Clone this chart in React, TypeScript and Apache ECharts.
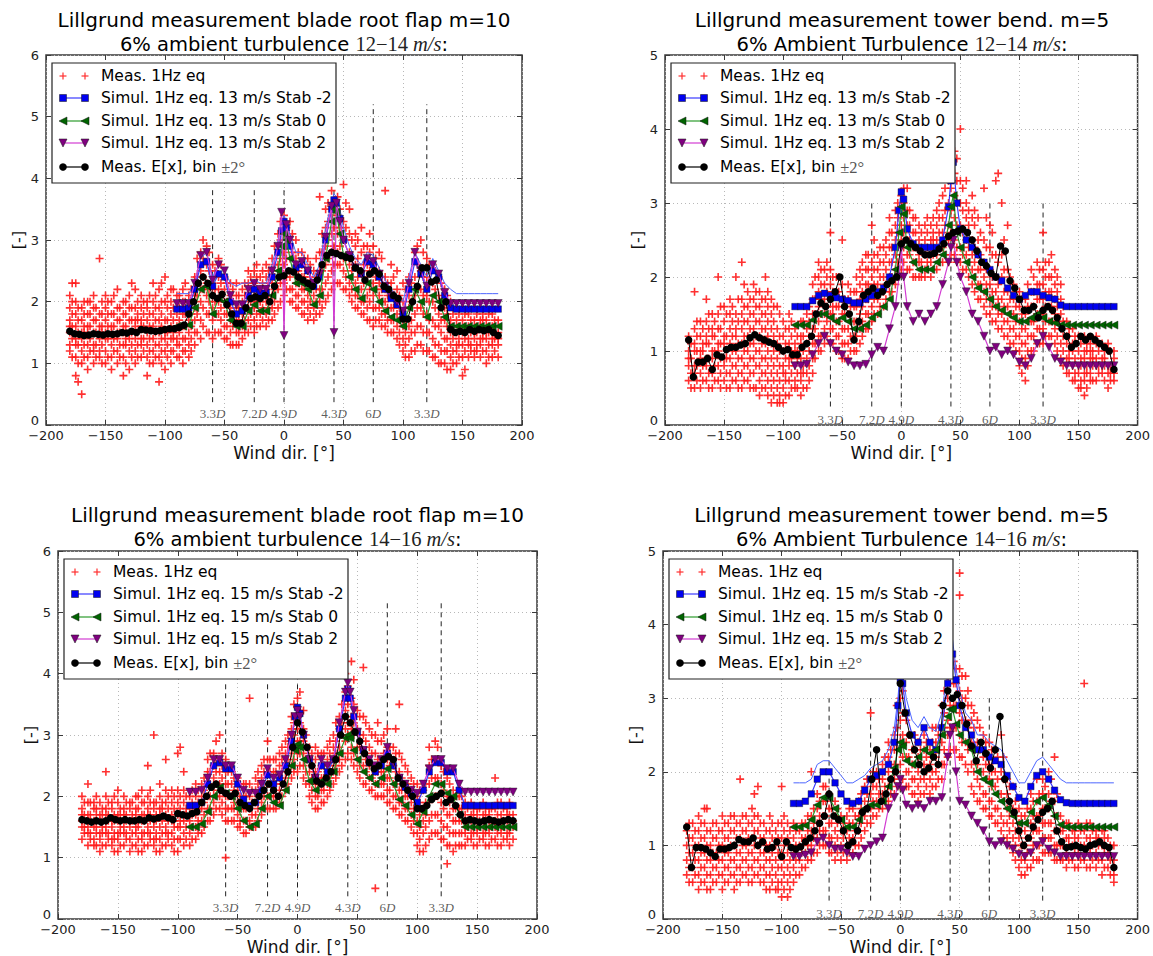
import React, { useEffect, useRef } from "react";
import * as echarts from "echarts";

// ---------------- data ----------------
const binX = [
  -180, -176, -172, -168, -164, -160, -156, -152, -148, -144,
  -140, -136, -132, -128, -124, -120, -116, -112, -108, -104,
  -100, -96, -92, -88, -84, -80, -76, -72, -68, -64,
  -60, -56, -52, -48, -44, -40, -36, -32, -28, -24,
  -20, -16, -12, -8, -4, 0, 4, 8, 12, 16,
  20, 24, 28, 32, 36, 40, 44, 48, 52, 56,
  60, 64, 68, 72, 76, 80, 84, 88, 92, 96,
  100, 104, 108, 112, 116, 120, 124, 128, 132, 136,
  140, 144, 148, 152, 156, 160, 164, 168, 172, 176,
  180,
];
const simX = [
  -90, -85, -80, -75, -70, -65, -60, -55, -50, -45, -40, -35, -30, -25, -20, -15, -10, -5,
  -2, 0, 2,
  5, 10, 15, 20, 25, 30, 35, 40,
  42, 44, 47,
  50, 55, 60, 65, 70, 75, 80, 85, 90, 95, 100, 105, 110, 115, 120, 125, 130, 135, 140,
  145, 150, 155, 160, 165, 170, 175, 180,
];
const dashX = [-60, -25, 0, 42, 75, 120];
const dashNum = ["3.3", "7.2", "4.9", "4.3", "6", "3.3"];
const dashTopBlade = [3.84, 3.84, 3.84, 3.84, 5.2, 5.2];
const dashTopTower = [3.0, 3.0, 3.0, 3.0, 3.0, 3.0];

// Mean E[x] (black)
const blackTL = [
  1.52, 1.48, 1.47, 1.45, 1.46, 1.48, 1.47, 1.46, 1.48, 1.47,
  1.48, 1.5, 1.49, 1.52, 1.5, 1.55, 1.54, 1.53, 1.52, 1.53,
  1.55, 1.56, 1.56, 1.58, 1.62, 1.8, 2.0, 2.3, 2.4, 2.3,
  2.1, 2.05, 2.12, 1.95, 1.8, 1.65, 1.65, 1.9, 2.05, 2.08,
  2.05, 2.1, 2.0, 2.25, 2.4, 2.42, 2.5, 2.48, 2.4, 2.35,
  2.3, 2.25, 2.35, 2.6, 2.75, 2.8, 2.78, 2.75, 2.72, 2.7,
  2.55, 2.5, 2.35, 2.45, 2.5, 2.45, 2.25, 2.2, 2.1, 2.05,
  1.72, 1.72, 2.0, 2.25, 2.55, 2.55, 2.32, 2.35, 1.9, 2.0,
  1.55, 1.5, 1.52, 1.5, 1.55, 1.52, 1.55, 1.53, 1.55, 1.5,
  1.45,
];
const blackTR = [
  1.15, 0.65, 0.85, 0.85, 0.9, 0.75, 0.95, 0.92, 1.02, 1.05,
  1.05, 1.08, 1.1, 1.18, 1.22, 1.18, 1.15, 1.12, 1.1, 1.05,
  1.0, 1.02, 0.95, 0.95, 1.05, 1.1, 1.2, 1.5, 1.65, 1.6,
  1.7, 1.8, 2.0, 1.6, 1.5, 1.15, 1.4, 1.75, 1.8, 1.85,
  1.75, 1.8, 1.9, 1.95, 2.0, 2.45, 2.5, 2.45, 2.4, 2.35,
  2.3, 2.3, 2.32, 2.38, 2.45, 2.55, 2.6, 2.62, 2.65, 2.6,
  2.5, 2.35, 2.2, 2.15, 2.05, 2.0, 2.42, 2.35, 1.95, 1.85,
  1.7, 1.55, 1.55, 1.6, 1.45, 1.55, 1.6, 1.55, 1.45, 1.3,
  1.2, 1.05, 1.1, 1.2, 1.15, 1.2, 1.15, 1.1, 1.05, 1.0,
  0.75,
];
const blackBL = [
  1.62, 1.6, 1.58, 1.6, 1.58, 1.6, 1.65, 1.62, 1.6, 1.62,
  1.6, 1.6, 1.62, 1.6, 1.65, 1.63, 1.65, 1.68, 1.65, 1.62,
  1.72, 1.7, 1.68, 1.72, 1.75, 1.9, 2.0, 2.15, 2.2, 2.1,
  2.05, 2.0, 2.05, 1.9, 1.85, 1.8, 1.9, 2.0, 2.1, 2.2,
  2.1, 2.0, 2.2, 2.4, 2.8, 3.2, 3.05, 2.8, 2.5, 2.25,
  2.2, 2.3, 2.4, 2.6, 3.0, 3.3, 3.2, 3.05, 2.9, 2.7,
  2.55, 2.45, 2.5, 2.6, 2.65, 2.6, 2.3, 2.2, 2.1, 2.0,
  1.8, 1.8, 1.85, 1.95, 2.0, 2.05, 1.9, 1.95, 1.85, 1.7,
  1.6, 1.62, 1.6, 1.58, 1.6, 1.62, 1.6, 1.58, 1.6, 1.62,
  1.6,
];
const blackBR = [
  1.25, 0.7, 0.97, 0.97, 0.95, 0.9, 0.85, 0.95, 0.95, 0.97,
  1.0, 1.08, 1.05, 1.05, 1.1, 1.0, 1.05, 0.95, 0.97, 1.05,
  0.85, 1.05, 0.97, 0.95, 0.98, 1.05, 1.1, 1.2, 1.3, 1.4,
  1.7, 1.4, 1.35, 1.2, 1.0, 1.05, 1.2, 1.45, 1.5, 1.9,
  2.3, 1.6, 1.7, 1.9, 2.0, 3.2, 2.8, 2.5, 2.3, 2.1,
  2.0, 2.05, 2.2, 2.1, 2.9, 3.1, 3.0, 3.05, 2.9, 2.65,
  2.35, 2.15, 2.4, 2.25, 2.05, 2.3, 2.75, 1.9, 1.6, 1.45,
  1.2, 1.0, 1.1, 1.25, 1.35, 1.45, 1.5, 1.6, 1.2, 1.05,
  0.97, 0.98, 1.0, 0.97, 0.95, 1.0, 1.02, 1.05, 1.0, 0.97,
  0.7,
];

// Simulations (on simX)
const blueTL = [
  1.88, 1.88, 1.9, 2.2, 2.6, 2.65, 2.25, 2.45, 2.4, 2.0, 1.8, 1.85, 2.1, 2.2, 2.15, 2.15, 2.4, 2.8,
  3.15, 3.3, 3.2,
  2.9, 2.55, 2.6, 2.5, 2.25, 2.4, 3.0, 3.5,
  3.65, 3.6, 3.35,
  3.0, 2.75, 2.55, 2.45, 2.65, 2.6, 2.4, 2.2, 2.05, 1.95, 1.8, 2.2, 2.65, 2.45, 2.2, 2.5, 2.4, 2.1, 1.9,
  1.88, 1.88, 1.88, 1.88, 1.88, 1.88, 1.88, 1.88,
];
const greenTL = [
  1.6, 1.6, 1.62, 1.9, 2.2, 2.25, 1.8, 2.05, 2.0, 1.7, 1.6, 1.6, 1.85, 1.95, 1.85, 1.85, 2.1, 2.5,
  2.9, 3.1, 3.0,
  2.7, 2.3, 2.3, 2.2, 1.95, 2.1, 2.7, 3.3,
  3.5, 3.45, 3.1,
  2.75, 2.4, 2.2, 2.05, 2.3, 2.2, 2.0, 1.85, 1.75, 1.7, 1.6, 1.9, 2.2, 2.0, 1.75, 2.1, 2.0, 1.75, 1.6,
  1.6, 1.6, 1.6, 1.6, 1.6, 1.6, 1.6, 1.6,
];
const purpleTL = [
  1.97, 1.97, 1.97, 2.3, 2.75, 2.8, 2.35, 2.6, 2.5, 2.1, 1.95, 1.95, 2.2, 2.3, 2.2, 2.2, 2.5, 2.9,
  3.45, 1.45, 3.25,
  3.0, 2.6, 2.65, 2.5, 2.3, 2.45, 3.05, 3.55,
  1.5, 3.6, 3.3,
  3.0, 2.75, 2.55, 2.45, 2.7, 2.65, 2.45, 2.25, 2.1, 2.0, 1.85, 2.3, 2.8, 2.5, 2.25, 2.6, 2.45, 2.15, 1.97,
  1.97, 1.97, 1.97, 1.97, 1.97, 1.97, 1.97, 1.97,
];
const thinTL = [
  2.13, 2.13, 2.13, 2.3, 2.7, 2.8, 2.4, 2.6, 2.5, 2.3, 2.25, 2.3, 2.3, 2.35, 2.3, 2.3, 2.6, 3.0,
  3.3, 3.4, 3.3,
  3.1, 2.8, 2.8, 2.6, 2.4, 2.6, 3.2, 3.6,
  3.75, 3.7, 3.5,
  3.2, 2.9, 2.7, 2.6, 2.8, 2.75, 2.55, 2.35, 2.2, 2.1, 2.0, 2.4, 2.8, 2.6, 2.4, 2.7, 2.5, 2.3, 2.2,
  2.13, 2.13, 2.13, 2.13, 2.13, 2.13, 2.13, 2.13,
];
const blueTR = [
  1.6, 1.6, 1.6, 1.68, 1.75, 1.78, 1.75, 1.72, 1.7, 1.68, 1.65, 1.65, 1.7, 1.75, 1.8, 1.85, 2.0, 2.4,
  2.9, 3.15, 3.05,
  2.65, 2.45, 2.4, 2.4, 2.4, 2.4, 2.5, 2.95,
  3.3, 3.55, 3.0,
  2.65, 2.5, 2.4, 2.3, 2.2, 2.1, 2.0, 1.95, 1.85, 1.75, 1.7, 1.75, 1.8, 1.8, 1.75, 1.72, 1.7, 1.62, 1.6,
  1.6, 1.6, 1.6, 1.6, 1.6, 1.6, 1.6, 1.6,
];
const greenTR = [
  1.35, 1.35, 1.35, 1.42, 1.5, 1.5, 1.45, 1.4, 1.45, 1.4, 1.3, 1.3, 1.35, 1.45, 1.5, 1.6, 1.7, 2.1,
  2.6, 2.95, 2.85,
  2.4, 2.2, 2.1, 2.1, 2.1, 2.2, 2.3, 2.7,
  2.95, 3.1, 2.6,
  2.4, 2.2, 2.0, 1.85, 1.8, 1.7, 1.6, 1.55, 1.5, 1.45, 1.4, 1.4, 1.45, 1.5, 1.45, 1.4, 1.38, 1.35, 1.35,
  1.35, 1.35, 1.35, 1.35, 1.35, 1.35, 1.35, 1.35,
];
const purpleTR = [
  0.8, 0.8, 0.82, 0.95, 1.1, 1.2, 1.1, 1.0, 0.95, 0.85, 0.8, 0.8, 0.82, 0.95, 1.05, 1.0, 1.3, 1.6,
  2.0, 2.4, 2.0,
  1.6, 1.4, 1.5, 1.4, 1.5, 1.6, 1.9, 2.2,
  2.4, 2.5, 2.2,
  2.0, 1.8, 1.5, 1.4, 1.2, 1.0, 1.05, 0.95, 1.0, 0.95, 0.85, 0.8, 0.9, 1.1, 1.2, 1.05, 0.9, 0.85, 0.8,
  0.8, 0.8, 0.8, 0.8, 0.8, 0.8, 0.8, 0.8,
];
const blueBL = [
  1.85, 1.85, 1.9, 2.2, 2.5, 2.55, 2.45, 2.45, 2.2, 1.95, 1.85, 1.9, 2.1, 2.35, 2.2, 2.3, 2.5, 2.9,
  3.3, 3.45, 3.35,
  3.0, 2.6, 2.3, 2.5, 2.4, 2.6, 3.1, 3.6,
  3.75, 3.6, 3.3,
  3.05, 2.75, 2.55, 2.4, 2.5, 2.7, 2.5, 2.3, 2.15, 2.05, 1.9, 2.1, 2.4, 2.55, 2.55, 2.4, 2.4, 2.1, 1.85,
  1.85, 1.85, 1.85, 1.85, 1.85, 1.85, 1.85, 1.85,
];
const greenBL = [
  1.5, 1.5, 1.55, 1.75, 2.0, 2.15, 2.05, 2.0, 1.8, 1.6, 1.5, 1.55, 1.8, 2.0, 1.9, 1.85, 2.1, 2.5,
  2.75, 2.85, 2.8,
  2.6, 2.25, 2.1, 2.25, 2.2, 2.4, 2.7, 2.95,
  3.0, 2.95, 2.75,
  2.6, 2.4, 2.3, 2.2, 2.3, 2.45, 2.2, 1.95, 1.85, 1.7, 1.55, 1.75, 2.0, 2.2, 2.2, 2.05, 2.0, 1.7, 1.5,
  1.5, 1.5, 1.5, 1.5, 1.5, 1.5, 1.5, 1.5,
];
const purpleBL = [
  2.07, 2.07, 2.1, 2.3, 2.6, 2.6, 2.5, 2.5, 2.3, 2.1, 2.05, 2.05, 2.2, 2.45, 2.3, 2.35, 2.6, 3.0,
  3.3, 3.4, 3.3,
  3.0, 2.6, 2.3, 2.6, 2.5, 2.6, 3.2, 3.7,
  3.85, 3.7, 3.4,
  3.05, 2.75, 2.6, 2.5, 2.6, 2.8, 2.55, 2.3, 2.2, 2.1, 2.05, 2.2, 2.45, 2.6, 2.6, 2.45, 2.45, 2.2, 2.07,
  2.07, 2.07, 2.07, 2.07, 2.07, 2.07, 2.07, 2.07,
];
const blueBR = [
  1.57, 1.57, 1.6, 1.7, 1.9, 2.0, 2.0, 1.85, 1.7, 1.6, 1.57, 1.6, 1.75, 1.9, 1.95, 2.0, 2.1, 2.4,
  2.9, 3.25, 3.2,
  2.8, 2.5, 2.4, 2.6, 2.4, 2.3, 2.6, 3.2,
  3.45, 3.6, 3.25,
  2.9, 2.6, 2.5, 2.3, 2.3, 2.2, 2.15, 2.1, 1.95, 1.8, 1.65, 1.6, 1.8, 1.95, 2.0, 1.9, 1.75, 1.62, 1.58,
  1.57, 1.57, 1.57, 1.57, 1.57, 1.57, 1.57, 1.57,
];
const greenBR = [
  1.25, 1.25, 1.27, 1.35, 1.55, 1.65, 1.65, 1.5, 1.35, 1.25, 1.25, 1.35, 1.5, 1.55, 1.55, 1.6, 1.8, 2.05,
  2.3, 2.4, 2.35,
  2.15, 2.1, 2.2, 2.3, 2.25, 2.3, 2.5, 2.75,
  2.85, 2.85, 2.65,
  2.5, 2.4, 2.3, 2.0, 1.9, 1.85, 1.7, 1.6, 1.5, 1.4, 1.3, 1.3, 1.45, 1.6, 1.65, 1.55, 1.4, 1.28, 1.25,
  1.25, 1.25, 1.25, 1.25, 1.25, 1.25, 1.25, 1.25,
];
const purpleBR = [
  0.85, 0.85, 0.87, 0.9, 1.05, 1.1, 1.0, 0.95, 0.95, 0.9, 0.85, 0.85, 0.95, 1.0, 1.05, 1.1, 1.5, 1.65,
  1.8, 1.9, 1.75,
  1.55, 1.5, 1.55, 1.5, 1.6, 1.6, 1.65, 2.2,
  2.5, 2.6, 2.0,
  1.6, 1.55, 1.4, 1.3, 1.2, 1.05, 1.0, 1.05, 1.0, 0.95, 0.88, 0.85, 0.9, 1.0, 1.05, 0.95, 0.9, 0.85, 0.85,
  0.85, 0.85, 0.85, 0.85, 0.85, 0.85, 0.85, 0.85,
];
const thinBR = [
  1.85, 1.85, 1.85, 1.9, 2.1, 2.15, 2.15, 2.05, 1.95, 1.85, 1.85, 1.9, 1.95, 2.05, 2.1, 2.15, 2.3, 2.6,
  3.0, 3.4, 3.35,
  3.0, 2.7, 2.6, 2.75, 2.6, 2.55, 2.8, 3.4,
  3.65, 3.8, 3.4,
  3.1, 2.8, 2.7, 2.5, 2.5, 2.4, 2.35, 2.3, 2.15, 2.0, 1.85, 1.85, 2.0, 2.15, 2.2, 2.1, 2.0, 1.9, 1.85,
  1.85, 1.85, 1.85, 1.85, 1.85, 1.85, 1.85, 1.85,
];

// Measured 1 Hz equivalent loads (red): each row = [wind dir, y values...]
const redTL = [
  [-180, 1.2, 1.3, 1.5, 1.6, 1.7, 1.9, 2.1], [-175, 0.8, 1.1, 1.3, 1.4, 1.6, 1.8, 2.0, 2.3],
  [-170, 0.5, 1.0, 1.2, 1.4, 1.5, 1.7, 1.9], [-165, 0.9, 1.1, 1.3, 1.5, 1.6, 1.8, 2.0],
  [-160, 1.0, 1.2, 1.3, 1.5, 1.7, 1.9, 2.1], [-155, 1.1, 1.2, 1.4, 1.5, 1.6, 1.8, 2.7],
  [-150, 1.0, 1.2, 1.4, 1.5, 1.7, 1.9, 2.1], [-145, 0.9, 1.1, 1.3, 1.5, 1.6, 1.8, 2.0],
  [-140, 1.0, 1.2, 1.4, 1.5, 1.7, 1.9, 2.2], [-135, 0.8, 1.1, 1.3, 1.5, 1.6, 1.8, 2.0],
  [-130, 0.9, 1.2, 1.4, 1.5, 1.7, 1.9, 2.1], [-125, 1.0, 1.2, 1.4, 1.6, 1.7, 1.9, 2.2],
  [-120, 1.1, 1.3, 1.4, 1.6, 1.7, 1.9, 2.1], [-115, 0.8, 1.1, 1.3, 1.5, 1.7, 1.9, 2.0],
  [-110, 1.0, 1.2, 1.4, 1.6, 1.8, 2.0, 2.3], [-105, 0.7, 1.1, 1.3, 1.5, 1.7, 1.9, 2.2],
  [-100, 0.9, 1.2, 1.4, 1.5, 1.7, 2.0, 2.4], [-95, 1.0, 1.2, 1.4, 1.6, 1.8, 2.0, 2.2],
  [-90, 1.1, 1.3, 1.4, 1.6, 1.8, 1.9, 2.1], [-85, 1.0, 1.2, 1.4, 1.6, 1.8, 2.0, 2.2],
  [-80, 1.1, 1.3, 1.5, 1.7, 1.9, 2.1], [-75, 1.3, 1.5, 1.7, 1.9, 2.1, 2.4],
  [-70, 1.4, 1.7, 2.0, 2.2, 2.5, 2.8], [-65, 1.5, 1.8, 2.1, 2.3, 2.6, 2.9],
  [-60, 1.4, 1.7, 1.9, 2.1, 2.3, 2.6], [-55, 1.5, 1.8, 2.0, 2.2, 2.4, 2.7],
  [-50, 1.4, 1.6, 1.8, 2.0, 2.2, 2.4], [-45, 1.3, 1.5, 1.7, 1.9, 2.1, 2.3],
  [-40, 1.3, 1.5, 1.7, 1.9, 2.1, 2.3], [-35, 1.4, 1.6, 1.8, 2.0, 2.2],
  [-30, 1.5, 1.7, 1.9, 2.1, 2.3, 2.5], [-25, 1.5, 1.7, 1.9, 2.1, 2.3, 2.5],
  [-20, 1.6, 1.8, 2.0, 2.2, 2.4], [-15, 1.6, 1.8, 2.0, 2.2, 2.4, 2.6],
  [-10, 1.7, 1.9, 2.1, 2.3, 2.5, 2.7], [-5, 1.9, 2.2, 2.4, 2.6, 2.8, 3.1],
  [0, 2.1, 2.3, 2.6, 2.8, 3.1, 3.4], [5, 2.0, 2.2, 2.4, 2.7, 3.0, 3.3],
  [10, 1.9, 2.1, 2.3, 2.5, 2.7, 3.0], [15, 1.8, 2.0, 2.2, 2.4, 2.6, 2.8],
  [20, 1.7, 1.9, 2.1, 2.3, 2.5, 2.7], [25, 1.7, 1.9, 2.1, 2.3, 2.5],
  [30, 1.8, 2.0, 2.2, 2.5, 2.8, 3.7], [35, 2.0, 2.3, 2.6, 2.9, 3.2, 3.5],
  [40, 2.2, 2.5, 2.8, 3.1, 3.4, 3.8], [45, 2.3, 2.6, 2.8, 3.1, 3.4, 3.7],
  [50, 2.2, 2.5, 2.7, 3.0, 3.3, 3.9], [55, 2.1, 2.3, 2.6, 2.8, 3.1, 3.5],
  [60, 1.9, 2.1, 2.3, 2.6, 2.9, 3.1], [65, 1.8, 2.0, 2.2, 2.5, 2.8, 3.2],
  [70, 1.7, 1.9, 2.1, 2.4, 2.6, 2.9], [75, 1.6, 1.9, 2.1, 2.3, 2.6, 2.9],
  [80, 1.7, 1.9, 2.1, 2.3, 2.5, 2.8], [85, 1.6, 1.8, 2.0, 2.2, 2.4, 3.8],
  [90, 1.5, 1.7, 1.9, 2.1, 2.3, 2.6], [95, 1.4, 1.6, 1.8, 2.0, 2.2, 2.5],
  [100, 1.2, 1.4, 1.6, 1.8, 2.0, 2.3], [105, 1.1, 1.4, 1.6, 1.9, 2.1, 2.4],
  [110, 1.2, 1.5, 1.8, 2.1, 2.4, 2.8], [115, 1.3, 1.6, 1.9, 2.2, 2.5, 3.0],
  [120, 1.2, 1.5, 1.8, 2.1, 2.4, 2.7], [125, 1.1, 1.4, 1.7, 2.0, 2.3, 2.6],
  [130, 1.0, 1.3, 1.6, 1.8, 2.1, 2.4], [135, 1.0, 1.2, 1.4, 1.7, 1.9, 2.2],
  [140, 0.9, 1.1, 1.3, 1.5, 1.7, 2.0], [145, 1.0, 1.2, 1.3, 1.5, 1.7, 1.9],
  [150, 0.8, 1.1, 1.3, 1.5, 1.7, 1.9], [155, 1.1, 1.3, 1.4, 1.6, 1.8],
  [160, 1.1, 1.2, 1.4, 1.5, 1.7, 1.9], [165, 1.1, 1.3, 1.4, 1.6, 1.7, 1.9],
  [170, 1.0, 1.2, 1.4, 1.5, 1.7, 1.9], [175, 1.1, 1.3, 1.4, 1.6, 1.8],
  [180, 1.1, 1.3, 1.4, 1.5, 1.7],
  [-178, 1.1, 1.4, 1.6, 1.8, 2.0, 2.3], [-173, 0.7, 1.0, 1.3, 1.5, 1.7, 1.9],
  [-168, 1.1, 1.3, 1.5, 1.6, 1.8, 2.0], [-163, 1.2, 1.4, 1.6, 1.8, 2.0],
  [-158, 1.1, 1.3, 1.5, 1.7, 1.9], [-153, 1.0, 1.3, 1.5, 1.6, 1.8, 2.0],
  [-148, 1.1, 1.4, 1.6, 1.8, 2.0], [-143, 1.2, 1.4, 1.6, 1.8, 2.1],
  [-138, 1.1, 1.3, 1.5, 1.7, 1.9], [-133, 1.0, 1.3, 1.4, 1.6, 1.8, 2.0],
  [-128, 1.1, 1.3, 1.5, 1.7, 1.9, 2.3], [-123, 1.1, 1.3, 1.5, 1.7, 1.8, 2.0],
  [-118, 1.2, 1.4, 1.6, 1.8, 2.0], [-113, 1.0, 1.2, 1.4, 1.6, 1.8, 2.1],
  [-108, 1.1, 1.3, 1.5, 1.7, 1.9, 2.1], [-103, 1.0, 1.2, 1.4, 1.6, 1.8, 2.0, 2.3],
  [-98, 1.1, 1.3, 1.5, 1.7, 1.9, 2.1], [-93, 1.2, 1.4, 1.5, 1.7, 1.9, 2.2],
  [-88, 1.1, 1.3, 1.5, 1.7, 1.9, 2.1], [-83, 1.2, 1.4, 1.6, 1.8, 2.0, 2.3],
  [-78, 1.2, 1.4, 1.6, 1.8, 2.0, 2.2], [-73, 1.5, 1.8, 2.1, 2.4, 2.7],
  [-68, 1.6, 1.9, 2.2, 2.4, 2.7, 3.0], [-63, 1.5, 1.8, 2.0, 2.2, 2.5, 2.8],
  [-58, 1.5, 1.8, 2.0, 2.2, 2.5], [-53, 1.5, 1.7, 1.9, 2.1, 2.3, 2.6],
  [-48, 1.4, 1.6, 1.8, 2.0, 2.3], [-43, 1.3, 1.6, 1.8, 2.0, 2.2],
  [-38, 1.3, 1.5, 1.7, 1.9, 2.1], [-33, 1.5, 1.7, 1.9, 2.1, 2.3],
  [-28, 1.6, 1.8, 2.0, 2.2, 2.4], [-23, 1.6, 1.8, 2.0, 2.2, 2.4, 2.6],
  [-18, 1.7, 1.9, 2.1, 2.3, 2.5], [-13, 1.7, 1.9, 2.1, 2.3, 2.5],
  [-8, 1.8, 2.0, 2.2, 2.4, 2.6, 2.9], [-3, 2.0, 2.3, 2.5, 2.7, 3.0, 3.3],
  [2, 2.2, 2.4, 2.7, 2.9, 3.2], [7, 2.0, 2.2, 2.5, 2.8, 3.1],
  [12, 1.9, 2.1, 2.3, 2.5, 2.8], [17, 1.8, 2.0, 2.2, 2.4, 2.7],
  [22, 1.8, 2.0, 2.2, 2.4, 2.6], [27, 1.8, 2.0, 2.2, 2.4, 2.7],
  [32, 1.9, 2.2, 2.5, 2.8, 3.1], [37, 2.1, 2.4, 2.7, 3.0, 3.3, 3.6],
  [42, 2.3, 2.6, 2.9, 3.2, 3.5], [47, 2.3, 2.6, 2.9, 3.2, 3.5],
  [52, 2.2, 2.4, 2.7, 3.0, 3.2, 3.6], [57, 2.0, 2.2, 2.5, 2.7, 3.0],
  [62, 1.9, 2.1, 2.4, 2.7, 3.0], [67, 1.8, 2.0, 2.3, 2.6, 2.9],
  [72, 1.7, 2.0, 2.2, 2.5, 2.8, 3.1], [77, 1.7, 1.9, 2.2, 2.4, 2.7],
  [82, 1.6, 1.8, 2.0, 2.2, 2.4, 2.7], [87, 1.5, 1.7, 1.9, 2.1, 2.3],
  [92, 1.5, 1.7, 1.9, 2.1, 2.4], [97, 1.3, 1.5, 1.7, 1.9, 2.1],
  [102, 1.1, 1.3, 1.5, 1.7, 1.9, 2.2], [107, 1.2, 1.5, 1.7, 2.0, 2.3],
  [112, 1.3, 1.6, 1.9, 2.2, 2.6, 2.9], [117, 1.2, 1.5, 1.8, 2.1, 2.4, 2.8],
  [122, 1.2, 1.5, 1.7, 2.0, 2.3, 2.6], [127, 1.1, 1.3, 1.6, 1.9, 2.2],
  [132, 1.0, 1.2, 1.5, 1.7, 2.0, 2.3], [137, 0.9, 1.2, 1.4, 1.6, 1.8, 2.1],
  [142, 1.0, 1.2, 1.4, 1.6, 1.8], [147, 1.1, 1.3, 1.4, 1.6, 1.8],
  [152, 0.9, 1.2, 1.4, 1.6, 1.8], [157, 1.2, 1.3, 1.5, 1.7],
  [162, 1.2, 1.3, 1.5, 1.6, 1.8], [167, 1.2, 1.4, 1.5, 1.7, 1.8],
  [172, 1.1, 1.3, 1.5, 1.6, 1.8], [177, 1.2, 1.4, 1.5, 1.7],
];
const redTR = [
  [-180, 0.6, 0.8, 0.9, 1.0, 1.2], [-175, 0.5, 0.7, 0.8, 1.0, 1.1, 1.3, 1.8],
  [-170, 0.5, 0.7, 0.9, 1.0, 1.2, 1.4], [-165, 0.6, 0.8, 0.9, 1.1, 1.2, 1.4, 1.7],
  [-160, 0.5, 0.7, 0.9, 1.0, 1.2, 1.3, 1.5], [-155, 0.6, 0.8, 1.0, 1.1, 1.3, 1.5, 2.0],
  [-150, 0.6, 0.8, 0.9, 1.1, 1.2, 1.4, 1.6], [-145, 0.5, 0.7, 0.9, 1.1, 1.3, 1.5, 1.7],
  [-140, 0.6, 0.8, 1.0, 1.2, 1.3, 1.5, 2.0], [-135, 0.5, 0.7, 0.9, 1.1, 1.3, 1.5, 1.7, 2.2],
  [-130, 0.6, 0.8, 1.0, 1.2, 1.4, 1.6, 1.8], [-125, 0.5, 0.7, 0.9, 1.1, 1.3, 1.5, 1.7, 1.9],
  [-120, 0.4, 0.6, 0.8, 1.0, 1.2, 1.4, 1.6, 1.8], [-115, 0.5, 0.7, 0.9, 1.1, 1.3, 1.5, 1.7, 2.0],
  [-110, 0.3, 0.5, 0.7, 0.9, 1.1, 1.3, 1.5, 1.7], [-105, 0.3, 0.5, 0.7, 0.9, 1.1, 1.3, 1.6],
  [-100, 0.3, 0.5, 0.7, 0.8, 1.0, 1.2, 1.4], [-95, 0.4, 0.6, 0.8, 0.9, 1.1, 1.3, 1.5],
  [-90, 0.5, 0.6, 0.8, 1.0, 1.1, 1.3], [-85, 0.4, 0.6, 0.7, 0.9, 1.1, 1.2, 1.4],
  [-80, 0.5, 0.7, 0.9, 1.1, 1.3, 1.5], [-75, 0.7, 0.9, 1.1, 1.3, 1.5, 1.7, 1.9],
  [-70, 1.0, 1.2, 1.4, 1.6, 1.8, 2.0, 2.2], [-65, 1.1, 1.3, 1.5, 1.7, 1.9, 2.1],
  [-60, 1.1, 1.3, 1.5, 1.7, 1.9, 2.1, 2.6], [-55, 1.0, 1.2, 1.4, 1.6, 1.8, 2.0],
  [-50, 0.9, 1.1, 1.3, 1.5, 1.7, 1.9, 2.5], [-45, 0.9, 1.1, 1.3, 1.5, 1.7, 1.9],
  [-40, 1.0, 1.2, 1.4, 1.6, 1.8], [-35, 1.1, 1.3, 1.5, 1.7, 1.9, 2.1],
  [-30, 1.3, 1.5, 1.7, 1.9, 2.1, 2.3], [-25, 1.4, 1.6, 1.8, 2.0, 2.2, 2.7],
  [-20, 1.5, 1.7, 1.9, 2.1, 2.3], [-15, 1.6, 1.8, 2.0, 2.2, 2.4],
  [-10, 1.8, 2.0, 2.2, 2.4, 2.6, 2.8], [-5, 1.9, 2.1, 2.3, 2.5, 2.7, 2.9],
  [0, 2.1, 2.3, 2.5, 2.7, 2.9, 3.1], [5, 2.1, 2.3, 2.5, 2.7, 2.9, 3.2],
  [10, 2.0, 2.2, 2.4, 2.6, 2.8], [15, 2.0, 2.2, 2.3, 2.5, 2.7],
  [20, 2.0, 2.1, 2.3, 2.5, 2.7], [25, 2.0, 2.2, 2.4, 2.5, 2.7],
  [30, 2.1, 2.3, 2.5, 2.7, 2.9], [35, 2.2, 2.4, 2.6, 2.8, 3.1],
  [40, 2.2, 2.5, 2.7, 3.0, 3.3, 3.6], [45, 2.3, 2.5, 2.8, 3.1, 3.4, 3.7],
  [50, 2.2, 2.4, 2.7, 3.0, 3.3, 4.0], [55, 2.1, 2.3, 2.5, 2.8, 3.0, 3.3],
  [60, 1.9, 2.1, 2.3, 2.5, 2.8, 3.1], [65, 1.7, 1.9, 2.1, 2.3, 2.5, 2.8],
  [70, 1.6, 1.8, 2.0, 2.2, 2.5, 3.2], [75, 1.5, 1.7, 1.9, 2.1, 2.4, 2.7],
  [80, 1.4, 1.6, 1.8, 2.0, 2.3, 3.3], [85, 1.3, 1.5, 1.7, 2.0, 2.3, 3.0],
  [90, 1.2, 1.4, 1.6, 1.8, 2.1, 2.7], [95, 1.1, 1.3, 1.5, 1.7, 1.9],
  [100, 0.8, 1.0, 1.2, 1.4, 1.6, 1.8], [105, 0.6, 0.9, 1.1, 1.3, 1.5, 1.7],
  [110, 1.0, 1.2, 1.4, 1.6, 1.8, 2.1], [115, 1.1, 1.3, 1.5, 1.7, 1.9, 2.2],
  [120, 1.1, 1.3, 1.5, 1.7, 1.9, 2.1, 2.6], [125, 1.2, 1.4, 1.6, 1.8, 2.0, 2.2],
  [130, 1.1, 1.3, 1.5, 1.7, 1.9, 2.1], [135, 0.9, 1.1, 1.3, 1.5, 1.7, 1.9],
  [140, 0.7, 0.9, 1.1, 1.2, 1.4], [145, 0.6, 0.8, 1.0, 1.1, 1.3],
  [150, 0.5, 0.7, 0.8, 1.0, 1.2], [155, 0.4, 0.6, 0.7, 0.9, 1.0, 1.2],
  [160, 0.6, 0.7, 0.9, 1.0, 1.1], [165, 0.6, 0.8, 0.9, 1.1, 1.2],
  [170, 0.7, 0.8, 0.9, 1.1], [175, 0.5, 0.7, 0.8, 1.0, 1.1],
  [180, 0.6, 0.7, 0.9, 1.0],
  [-178, 0.5, 0.7, 0.9, 1.1], [-173, 0.6, 0.8, 1.0, 1.2, 1.4],
  [-168, 0.6, 0.8, 1.0, 1.1, 1.3], [-163, 0.5, 0.7, 0.9, 1.1, 1.3, 1.5],
  [-158, 0.6, 0.8, 1.0, 1.2, 1.4], [-153, 0.5, 0.7, 0.9, 1.1, 1.3, 1.6],
  [-148, 0.5, 0.7, 0.9, 1.0, 1.2, 1.5], [-143, 0.6, 0.8, 1.0, 1.2, 1.4, 1.6],
  [-138, 0.5, 0.7, 0.9, 1.1, 1.4, 1.7], [-133, 0.6, 0.8, 1.0, 1.2, 1.4, 1.6, 1.9],
  [-128, 0.5, 0.7, 0.9, 1.1, 1.3, 1.5, 1.7], [-123, 0.5, 0.8, 1.0, 1.2, 1.4, 1.6, 1.8],
  [-118, 0.5, 0.7, 0.9, 1.1, 1.3, 1.5, 1.7], [-113, 0.4, 0.6, 0.8, 1.0, 1.2, 1.4, 1.6, 1.8],
  [-108, 0.4, 0.6, 0.8, 1.0, 1.2, 1.4, 1.6], [-103, 0.3, 0.4, 0.6, 0.8, 1.0, 1.2, 1.5],
  [-98, 0.4, 0.6, 0.7, 0.9, 1.1, 1.3], [-93, 0.5, 0.7, 0.9, 1.0, 1.2, 1.4],
  [-88, 0.5, 0.7, 0.9, 1.0, 1.2], [-83, 0.5, 0.7, 0.8, 1.0, 1.2, 1.4],
  [-78, 0.6, 0.8, 1.0, 1.2, 1.4, 1.6], [-73, 0.9, 1.1, 1.3, 1.5, 1.7, 2.0],
  [-68, 1.0, 1.2, 1.5, 1.7, 1.9, 2.1], [-63, 1.2, 1.4, 1.6, 1.8, 2.0, 2.2],
  [-58, 1.1, 1.3, 1.5, 1.6, 1.8, 2.0], [-53, 1.0, 1.2, 1.4, 1.6, 1.8, 2.0],
  [-48, 0.9, 1.1, 1.3, 1.5, 1.7], [-43, 1.0, 1.2, 1.4, 1.6, 1.8],
  [-38, 1.0, 1.2, 1.4, 1.6, 1.8, 2.0], [-33, 1.2, 1.4, 1.6, 1.8, 2.0, 2.2],
  [-28, 1.3, 1.5, 1.7, 1.9, 2.1, 2.3], [-23, 1.5, 1.7, 1.9, 2.1, 2.3, 2.5],
  [-18, 1.6, 1.8, 2.0, 2.2, 2.4], [-13, 1.7, 1.9, 2.1, 2.3, 2.5],
  [-8, 1.8, 2.0, 2.2, 2.4, 2.6], [-3, 2.0, 2.2, 2.4, 2.6, 2.8, 3.0],
  [2, 2.2, 2.4, 2.6, 2.8, 3.0, 3.2], [7, 2.1, 2.3, 2.5, 2.7, 2.9],
  [12, 2.0, 2.2, 2.4, 2.6, 2.8], [17, 2.0, 2.2, 2.4, 2.6],
  [22, 2.1, 2.2, 2.4, 2.6, 2.8], [27, 2.1, 2.3, 2.5, 2.6, 2.8],
  [32, 2.2, 2.4, 2.6, 2.8, 3.0], [37, 2.3, 2.5, 2.7, 2.9, 3.2],
  [42, 2.3, 2.6, 2.9, 3.2, 3.5], [47, 2.2, 2.4, 2.7, 3.0, 3.3, 3.6],
  [52, 2.1, 2.3, 2.6, 2.9, 3.2], [57, 2.0, 2.2, 2.4, 2.7, 2.9],
  [62, 1.8, 2.0, 2.2, 2.4, 2.7, 2.9], [67, 1.7, 1.9, 2.1, 2.3, 2.6],
  [72, 1.5, 1.7, 1.9, 2.1, 2.4, 2.8], [77, 1.4, 1.6, 1.8, 2.0, 2.3, 2.6],
  [82, 1.3, 1.5, 1.7, 1.9, 2.2, 3.4], [87, 1.2, 1.4, 1.6, 1.8, 2.1, 2.5],
  [92, 1.1, 1.3, 1.5, 1.7, 2.0], [97, 1.0, 1.2, 1.4, 1.6, 1.8],
  [102, 0.7, 0.9, 1.1, 1.3, 1.5, 1.7], [107, 0.8, 1.0, 1.2, 1.4, 1.6, 1.9],
  [112, 1.0, 1.2, 1.4, 1.6, 1.8, 2.0], [117, 1.1, 1.3, 1.5, 1.7, 1.9, 2.1],
  [122, 1.2, 1.4, 1.6, 1.8, 2.0, 2.2], [127, 1.2, 1.4, 1.6, 1.8, 2.0, 2.3],
  [132, 1.0, 1.2, 1.4, 1.6, 1.8, 2.0], [137, 0.8, 1.0, 1.2, 1.4, 1.6],
  [142, 0.7, 0.9, 1.0, 1.2, 1.3], [147, 0.6, 0.7, 0.9, 1.1, 1.2],
  [152, 0.5, 0.6, 0.8, 0.9, 1.1], [157, 0.5, 0.7, 0.8, 1.0, 1.1],
  [162, 0.6, 0.8, 0.9, 1.0], [167, 0.7, 0.8, 1.0, 1.1],
  [172, 0.6, 0.8, 0.9, 1.0], [177, 0.6, 0.7, 0.8, 1.0],
];
const redBL = [
  [-180, 1.3, 1.5, 1.6, 1.7, 1.8, 2.0], [-175, 1.2, 1.4, 1.5, 1.6, 1.7, 1.9, 2.2],
  [-170, 1.2, 1.3, 1.5, 1.6, 1.8, 1.9], [-165, 1.1, 1.3, 1.4, 1.6, 1.7, 1.9],
  [-160, 1.2, 1.4, 1.5, 1.7, 1.8, 2.0, 2.4], [-155, 1.2, 1.3, 1.5, 1.6, 1.8, 1.9],
  [-150, 1.1, 1.3, 1.4, 1.6, 1.7, 1.9, 2.1], [-145, 1.2, 1.4, 1.5, 1.7, 1.8, 2.0],
  [-140, 1.1, 1.3, 1.5, 1.6, 1.8, 1.9], [-135, 1.2, 1.4, 1.5, 1.7, 1.8, 2.0],
  [-130, 1.1, 1.3, 1.4, 1.6, 1.7, 1.9, 2.1], [-125, 1.2, 1.4, 1.5, 1.7, 1.8, 2.0, 2.5],
  [-120, 1.2, 1.3, 1.5, 1.6, 1.8, 1.9, 3.0], [-115, 1.1, 1.3, 1.5, 1.7, 1.8, 2.0, 2.2],
  [-110, 1.2, 1.4, 1.5, 1.7, 1.9, 2.1, 2.6], [-105, 1.2, 1.4, 1.6, 1.7, 1.9, 2.1],
  [-100, 1.1, 1.3, 1.5, 1.7, 1.9, 2.1, 2.7], [-95, 1.2, 1.4, 1.6, 1.7, 1.9, 2.1, 2.4],
  [-90, 1.2, 1.4, 1.6, 1.8, 2.0], [-85, 1.3, 1.5, 1.7, 1.8, 2.0, 2.2],
  [-80, 1.4, 1.6, 1.8, 2.0, 2.2], [-75, 1.6, 1.8, 2.0, 2.2, 2.4, 2.6],
  [-70, 1.7, 1.9, 2.1, 2.3, 2.5, 2.7], [-65, 1.8, 2.0, 2.2, 2.4, 2.6, 3.0],
  [-60, 1.0, 1.6, 1.8, 2.0, 2.2, 2.4, 2.6], [-55, 1.6, 1.8, 2.0, 2.2, 2.4],
  [-50, 1.5, 1.7, 1.9, 2.1, 2.3], [-45, 1.4, 1.6, 1.8, 2.0, 2.2],
  [-40, 1.5, 1.6, 1.8, 2.0, 2.2, 3.6], [-35, 1.5, 1.7, 1.9, 2.1, 2.3],
  [-30, 1.7, 1.9, 2.1, 2.3, 2.5], [-25, 1.8, 2.0, 2.2, 2.4, 2.6, 2.9],
  [-20, 1.8, 2.0, 2.2, 2.4, 2.6], [-15, 1.9, 2.1, 2.3, 2.5, 2.7],
  [-10, 2.1, 2.3, 2.5, 2.7, 2.9], [-5, 2.3, 2.5, 2.7, 2.9, 3.1, 3.3],
  [0, 2.4, 2.7, 2.9, 3.1, 3.3, 3.6], [5, 2.3, 2.5, 2.7, 2.9, 3.1, 3.4],
  [10, 2.0, 2.2, 2.4, 2.6, 2.8], [15, 1.8, 2.0, 2.2, 2.4, 2.6, 2.8],
  [20, 1.9, 2.1, 2.3, 2.5, 2.7], [25, 2.0, 2.2, 2.4, 2.6, 2.8],
  [30, 2.2, 2.4, 2.6, 2.8, 3.0], [35, 2.4, 2.6, 2.8, 3.1, 3.3],
  [40, 2.6, 2.9, 3.1, 3.4, 3.7, 4.0], [45, 2.6, 2.8, 3.1, 3.3, 3.6, 4.2],
  [50, 2.4, 2.6, 2.8, 3.1, 3.4], [55, 2.2, 2.5, 2.7, 3.0, 3.3, 4.1],
  [60, 2.1, 2.3, 2.5, 2.8, 3.1], [65, 0.5, 2.0, 2.2, 2.4, 2.7, 3.0],
  [70, 2.0, 2.2, 2.4, 2.6, 2.9], [75, 1.9, 2.1, 2.3, 2.6, 2.8, 3.1],
  [80, 1.8, 2.0, 2.2, 2.5, 2.8], [85, 1.7, 1.9, 2.1, 2.4, 2.7, 3.5],
  [90, 1.6, 1.8, 2.0, 2.2, 2.5], [95, 1.5, 1.7, 1.9, 2.1, 2.3],
  [100, 1.2, 1.4, 1.6, 1.8, 2.0, 2.2], [105, 1.1, 1.4, 1.6, 1.8, 2.1],
  [110, 1.3, 1.6, 1.9, 2.2, 2.5, 2.8], [115, 1.4, 1.7, 2.0, 2.3, 2.6, 2.9],
  [120, 1.3, 1.6, 1.9, 2.2, 2.5], [125, 0.9, 1.2, 1.5, 1.7, 2.0, 2.3],
  [130, 1.1, 1.4, 1.6, 1.8, 2.1], [135, 1.2, 1.4, 1.6, 1.8, 2.0],
  [140, 1.2, 1.4, 1.5, 1.7, 1.9], [145, 1.3, 1.4, 1.6, 1.7, 1.9],
  [150, 1.2, 1.4, 1.5, 1.7, 1.8], [155, 1.3, 1.4, 1.6, 1.7, 1.9],
  [160, 1.2, 1.4, 1.5, 1.7, 1.8], [165, 1.3, 1.5, 1.6, 1.8, 2.3],
  [170, 1.2, 1.4, 1.5, 1.7, 1.9], [175, 1.3, 1.4, 1.6, 1.7, 1.8],
  [180, 1.3, 1.5, 1.6, 1.7],
  [-178, 1.4, 1.5, 1.7, 1.9], [-173, 1.3, 1.4, 1.6, 1.7, 1.9],
  [-168, 1.2, 1.4, 1.5, 1.7, 1.8, 2.0], [-163, 1.2, 1.4, 1.5, 1.7, 1.8],
  [-158, 1.3, 1.4, 1.6, 1.7, 1.9], [-153, 1.1, 1.3, 1.4, 1.6, 1.7, 2.0],
  [-148, 1.2, 1.4, 1.5, 1.7, 1.8], [-143, 1.3, 1.4, 1.6, 1.7, 1.9],
  [-138, 1.2, 1.4, 1.6, 1.7, 1.9], [-133, 1.1, 1.3, 1.5, 1.6, 1.8, 2.0],
  [-128, 1.2, 1.4, 1.6, 1.7, 1.9], [-123, 1.3, 1.4, 1.6, 1.7, 1.9, 2.1],
  [-118, 1.1, 1.3, 1.4, 1.6, 1.7, 1.9], [-113, 1.2, 1.4, 1.6, 1.8, 1.9],
  [-108, 1.3, 1.4, 1.6, 1.8, 2.0], [-103, 1.1, 1.3, 1.5, 1.6, 1.8, 2.0],
  [-98, 1.3, 1.5, 1.6, 1.8, 2.0, 2.8], [-93, 1.3, 1.5, 1.7, 1.8, 2.0],
  [-88, 1.3, 1.5, 1.7, 1.9, 2.1], [-83, 1.4, 1.6, 1.8, 1.9, 2.1],
  [-78, 1.5, 1.7, 1.9, 2.1, 2.3], [-73, 1.6, 1.8, 2.0, 2.2, 2.4, 2.7],
  [-68, 1.8, 2.0, 2.2, 2.4, 2.6, 2.9], [-63, 1.7, 1.9, 2.1, 2.3, 2.5, 2.7],
  [-58, 1.6, 1.8, 2.0, 2.2, 2.4], [-53, 1.6, 1.8, 1.9, 2.1, 2.3],
  [-48, 1.5, 1.6, 1.8, 2.0, 2.2], [-43, 1.4, 1.6, 1.8, 2.0, 2.2],
  [-38, 1.5, 1.7, 1.9, 2.1], [-33, 1.6, 1.8, 2.0, 2.2, 2.4],
  [-28, 1.8, 2.0, 2.2, 2.4, 2.6], [-23, 1.8, 2.0, 2.2, 2.4, 2.6],
  [-18, 1.8, 2.0, 2.2, 2.4, 2.6], [-13, 2.0, 2.2, 2.4, 2.6, 2.8],
  [-8, 2.2, 2.4, 2.6, 2.8, 3.0], [-3, 2.4, 2.6, 2.8, 3.0, 3.2, 3.5],
  [2, 2.5, 2.7, 2.9, 3.2, 3.4, 3.7], [7, 2.2, 2.4, 2.6, 2.8, 3.0],
  [12, 1.9, 2.1, 2.3, 2.5, 2.7], [17, 1.8, 2.0, 2.2, 2.4, 2.7],
  [22, 1.9, 2.1, 2.3, 2.5, 2.7], [27, 2.1, 2.3, 2.5, 2.7, 2.9],
  [32, 2.3, 2.5, 2.7, 2.9, 3.2], [37, 2.5, 2.7, 3.0, 3.2, 3.5],
  [42, 2.7, 3.0, 3.2, 3.5, 3.8], [47, 2.5, 2.7, 3.0, 3.2, 3.5, 3.9],
  [52, 2.3, 2.5, 2.8, 3.0, 3.3], [57, 2.2, 2.4, 2.6, 2.9, 3.2],
  [62, 2.1, 2.3, 2.5, 2.7, 3.0], [67, 2.0, 2.2, 2.4, 2.6, 2.9, 3.2],
  [72, 2.0, 2.2, 2.4, 2.7, 3.0], [77, 1.9, 2.1, 2.3, 2.5, 2.8],
  [82, 1.8, 2.0, 2.2, 2.4, 2.7, 3.1], [87, 1.7, 1.9, 2.1, 2.3, 2.6],
  [92, 1.6, 1.8, 2.0, 2.2, 2.4], [97, 1.4, 1.6, 1.8, 2.0, 2.2],
  [102, 1.1, 1.3, 1.5, 1.7, 1.9, 2.1], [107, 1.2, 1.5, 1.7, 1.9, 2.2],
  [112, 1.4, 1.7, 2.0, 2.3, 2.6], [117, 1.4, 1.7, 2.0, 2.3, 2.6, 2.8],
  [122, 1.3, 1.5, 1.8, 2.1, 2.4], [127, 1.2, 1.4, 1.7, 1.9, 2.2],
  [132, 1.2, 1.4, 1.6, 1.8, 2.0], [137, 1.2, 1.4, 1.6, 1.8, 2.0],
  [142, 1.3, 1.5, 1.6, 1.8], [147, 1.2, 1.4, 1.5, 1.7, 1.8],
  [152, 1.3, 1.5, 1.6, 1.8], [157, 1.2, 1.4, 1.5, 1.7, 1.8],
  [162, 1.3, 1.5, 1.6, 1.8], [167, 1.2, 1.4, 1.5, 1.7, 1.9],
  [172, 1.3, 1.5, 1.6, 1.8], [177, 1.2, 1.4, 1.5, 1.7, 1.9],
];
const redBR = [
  [-180, 0.6, 0.8, 1.0, 1.2], [-175, 0.5, 0.7, 0.9, 1.1, 1.3],
  [-170, 0.4, 0.6, 0.8, 1.0, 1.2, 1.4], [-165, 0.5, 0.7, 0.9, 1.1, 1.3, 1.5],
  [-160, 0.4, 0.6, 0.8, 1.0, 1.2], [-155, 0.5, 0.7, 0.9, 1.1, 1.3],
  [-150, 0.4, 0.6, 0.8, 1.0, 1.2, 1.4], [-145, 0.5, 0.7, 0.9, 1.1, 1.3],
  [-140, 0.4, 0.6, 0.8, 1.0, 1.2, 1.4], [-135, 0.5, 0.7, 0.9, 1.1, 1.3, 1.9],
  [-130, 0.6, 0.8, 1.0, 1.2, 1.4], [-125, 0.5, 0.7, 0.9, 1.1, 1.3, 1.5],
  [-120, 0.6, 0.8, 1.0, 1.2, 1.4, 1.8], [-115, 0.5, 0.7, 0.9, 1.1, 1.3],
  [-110, 0.4, 0.6, 0.8, 1.0, 1.2, 1.4], [-105, 0.4, 0.6, 0.8, 1.0, 1.2],
  [-100, 0.3, 0.5, 0.7, 0.9, 1.1, 1.3, 1.8], [-95, 0.3, 0.5, 0.7, 0.9, 1.1, 1.3],
  [-90, 0.5, 0.7, 0.9, 1.1, 1.3], [-85, 0.6, 0.8, 1.0, 1.2],
  [-80, 0.7, 0.9, 1.1, 1.3], [-75, 0.8, 1.0, 1.2, 1.4, 2.0],
  [-70, 0.9, 1.1, 1.3, 1.5, 1.7], [-65, 1.0, 1.2, 1.4, 1.6, 1.8],
  [-60, 0.9, 1.1, 1.3, 1.5, 1.7], [-55, 0.8, 1.0, 1.2, 1.4, 1.6],
  [-50, 0.8, 1.0, 1.2, 1.4], [-45, 0.8, 1.0, 1.2, 1.4],
  [-40, 0.9, 1.1, 1.3, 1.5], [-35, 1.0, 1.2, 1.4, 1.6],
  [-30, 1.2, 1.4, 1.6, 1.8], [-25, 1.3, 1.5, 1.7, 1.9, 2.8],
  [-20, 1.4, 1.6, 1.8, 2.0], [-15, 1.5, 1.7, 1.9, 2.1],
  [-10, 1.6, 1.8, 2.0, 2.2, 2.4], [-5, 1.7, 1.9, 2.1, 2.3, 2.5],
  [0, 1.8, 2.1, 2.4, 2.7, 3.0, 3.3], [5, 1.8, 2.0, 2.2, 2.4, 2.7],
  [10, 1.7, 1.9, 2.1, 2.3], [15, 1.6, 1.8, 2.0, 2.2, 2.4],
  [20, 1.7, 1.9, 2.1, 2.3, 2.5], [25, 1.7, 1.9, 2.1, 2.3],
  [30, 1.8, 2.0, 2.2, 2.4, 2.6], [35, 1.9, 2.1, 2.4, 2.6, 2.9],
  [40, 2.2, 2.5, 2.7, 3.0, 3.3], [45, 2.3, 2.6, 2.9, 3.2, 3.5],
  [50, 2.2, 2.5, 2.8, 3.1, 3.4, 4.4, 4.7], [55, 2.1, 2.4, 2.7, 3.0, 3.3],
  [60, 1.8, 2.1, 2.4, 2.7, 2.9], [65, 1.6, 1.9, 2.1, 2.4, 2.7],
  [70, 1.5, 1.7, 2.0, 2.2, 2.5], [75, 1.4, 1.6, 1.9, 2.1, 2.4],
  [80, 1.3, 1.5, 1.8, 2.0, 2.3], [85, 1.2, 1.4, 1.7, 2.0, 2.5],
  [90, 1.1, 1.3, 1.5, 1.7, 1.9], [95, 0.9, 1.1, 1.3, 1.5, 1.8],
  [100, 0.7, 0.9, 1.1, 1.3, 1.5], [105, 0.6, 0.8, 1.0, 1.2, 1.4],
  [110, 0.7, 0.9, 1.1, 1.3, 1.5, 1.7], [115, 0.8, 1.0, 1.2, 1.4, 1.6, 1.9],
  [120, 0.9, 1.1, 1.3, 1.5, 1.7, 1.9], [125, 0.9, 1.1, 1.3, 1.5, 1.7, 2.0],
  [130, 0.8, 1.0, 1.2, 1.4, 1.6, 2.2], [135, 0.8, 1.0, 1.2, 1.4],
  [140, 0.7, 0.9, 1.1, 1.3], [145, 0.8, 1.0, 1.2],
  [150, 0.7, 0.9, 1.1, 1.3], [155, 0.8, 1.0, 1.2, 3.2],
  [160, 0.7, 0.9, 1.1, 1.3], [165, 0.7, 0.9, 1.1, 1.2],
  [170, 0.6, 0.8, 1.0, 1.2], [175, 0.7, 0.9, 1.1],
  [180, 0.5, 0.6, 0.8, 1.0],
  [-178, 0.5, 0.7, 0.9, 1.1, 1.3], [-173, 0.6, 0.8, 1.0, 1.2],
  [-168, 0.5, 0.7, 0.9, 1.1, 1.3], [-163, 0.4, 0.6, 0.8, 1.0, 1.2, 1.5],
  [-158, 0.5, 0.7, 0.9, 1.1, 1.3], [-153, 0.6, 0.8, 1.0, 1.2],
  [-148, 0.5, 0.7, 0.9, 1.1, 1.3], [-143, 0.6, 0.8, 1.0, 1.2, 1.4],
  [-138, 0.5, 0.7, 0.9, 1.1, 1.3], [-133, 0.6, 0.8, 1.0, 1.2, 1.4],
  [-128, 0.5, 0.7, 0.9, 1.1, 1.3], [-123, 0.6, 0.8, 1.0, 1.2, 1.4, 1.7],
  [-118, 0.5, 0.7, 0.9, 1.1, 1.3], [-113, 0.4, 0.6, 0.8, 1.0, 1.2],
  [-108, 0.5, 0.7, 0.9, 1.1, 1.3], [-103, 0.4, 0.5, 0.7, 0.9, 1.1, 1.3],
  [-98, 0.4, 0.6, 0.8, 1.0, 1.2, 1.4], [-93, 0.4, 0.6, 0.8, 1.0, 1.2],
  [-88, 0.6, 0.8, 1.0, 1.2], [-83, 0.7, 0.9, 1.1, 1.3],
  [-78, 0.8, 1.0, 1.2, 1.4], [-73, 0.9, 1.1, 1.3, 1.5],
  [-68, 1.0, 1.2, 1.4, 1.6], [-63, 1.0, 1.2, 1.4, 1.6, 1.8],
  [-58, 0.9, 1.1, 1.3, 1.5], [-53, 0.9, 1.1, 1.3, 1.5],
  [-48, 0.9, 1.1, 1.3], [-43, 0.9, 1.1, 1.3, 1.5],
  [-38, 1.0, 1.2, 1.4], [-33, 1.1, 1.3, 1.5, 1.7],
  [-28, 1.3, 1.5, 1.7, 1.9], [-23, 1.4, 1.6, 1.8, 2.0],
  [-18, 1.5, 1.7, 1.9], [-13, 1.6, 1.8, 2.0, 2.2],
  [-8, 1.7, 1.9, 2.1, 2.3], [-3, 1.8, 2.0, 2.3, 2.6, 2.9],
  [2, 1.9, 2.2, 2.5, 2.8, 3.1], [7, 1.8, 2.0, 2.2, 2.5],
  [12, 1.7, 1.9, 2.1, 2.3, 2.5], [17, 1.7, 1.9, 2.1, 2.3],
  [22, 1.8, 2.0, 2.2, 2.4], [27, 1.8, 2.0, 2.2, 2.4, 2.6],
  [32, 1.9, 2.1, 2.3, 2.5], [37, 2.1, 2.3, 2.6, 2.8, 3.1],
  [42, 2.3, 2.6, 2.9, 3.2, 3.5], [47, 2.3, 2.6, 2.9, 3.2, 3.4],
  [52, 2.2, 2.4, 2.7, 3.0, 3.3], [57, 2.0, 2.3, 2.6, 2.9, 3.1],
  [62, 1.7, 2.0, 2.3, 2.6, 2.8], [67, 1.6, 1.8, 2.0, 2.3, 2.6],
  [72, 1.5, 1.7, 1.9, 2.1, 2.4], [77, 1.4, 1.6, 1.8, 2.0, 2.3],
  [82, 1.3, 1.5, 1.7, 1.9, 2.2], [87, 1.1, 1.3, 1.6, 1.9, 2.2],
  [92, 1.0, 1.2, 1.4, 1.6, 1.8], [97, 0.8, 1.0, 1.2, 1.4, 1.6],
  [102, 0.6, 0.8, 1.0, 1.2, 1.4], [107, 0.7, 0.9, 1.1, 1.3, 1.5],
  [112, 0.8, 1.0, 1.2, 1.4, 1.6], [117, 0.8, 1.0, 1.2, 1.4, 1.7],
  [122, 0.9, 1.1, 1.3, 1.5, 1.8], [127, 0.9, 1.1, 1.3, 1.6, 1.9],
  [132, 0.8, 1.0, 1.2, 1.4, 1.7], [137, 0.8, 1.0, 1.2, 1.3],
  [142, 0.8, 1.0, 1.1, 1.3], [147, 0.7, 0.9, 1.1, 1.2],
  [152, 0.8, 1.0, 1.2], [157, 0.7, 0.9, 1.1, 1.3],
  [162, 0.8, 1.0, 1.2], [167, 0.8, 1.0, 1.1],
  [172, 0.7, 0.9, 1.1, 1.2], [177, 0.6, 0.8, 1.0],
];

// ---------------- styling / layout ----------------
const SANS = "'DejaVu Sans', 'Liberation Sans', sans-serif";
const SERIF = "'Liberation Serif', 'DejaVu Serif', serif";
const PLUS = "path://M4,0H6V4H10V6H6V10H4V6H0V4H4Z";

const panels = [
  {
    left: 46, top: 55, width: 476, height: 370, ymax: 6, t1y: 20, t2y: 44,
    title: "Lillgrund measurement blade root flap m=10", amb: "6% ambient turbulence ", range: "12\u221214", speed: "13",
    red: redTL, black: blackTL, blue: blueTL, green: greenTL, purple: purpleTL, thin: thinTL,
    dashTop: dashTopBlade, dashBot: 0.37, labY: 0.19,
  },
  {
    left: 665, top: 55, width: 474, height: 370, ymax: 5, t1y: 20, t2y: 44,
    title: "Lillgrund measurement tower bend. m=5", amb: "6% Ambient Turbulence ", range: "12\u221214", speed: "13",
    red: redTR, black: blackTR, blue: blueTR, green: greenTR, purple: purpleTR, thin: null,
    dashTop: dashTopTower, dashBot: 0.25, labY: 0.07,
  },
  {
    left: 58, top: 551, width: 479, height: 368, ymax: 6, t1y: 515, t2y: 539,
    title: "Lillgrund measurement blade root flap m=10", amb: "6% ambient turbulence ", range: "14\u221216", speed: "15",
    red: redBL, black: blackBL, blue: blueBL, green: greenBL, purple: purpleBL, thin: null,
    dashTop: dashTopBlade, dashBot: 0.37, labY: 0.19,
  },
  {
    left: 663, top: 551, width: 477, height: 368, ymax: 5, t1y: 515, t2y: 539,
    title: "Lillgrund measurement tower bend. m=5", amb: "6% Ambient Turbulence ", range: "14\u221216", speed: "15",
    red: redBR, black: blackBR, blue: blueBR, green: greenBR, purple: purpleBR, thin: thinBR,
    dashTop: dashTopTower, dashBot: 0.25, labY: 0.07,
  },
];

const C_BLUE = "#0000f0", C_BLUE_L = "#3a3aff";
const C_GREEN = "#006400", C_GREEN_L = "#2a9a2a";
const C_PURP = "#800080", C_PURP_L = "#d23cd2";

function fmtX(v: number) {
  return v < 0 ? "\u2212" + Math.abs(v) : String(v);
}
function fmtY(v: number) {
  return v === 0 ? "{z|0}" : String(v);
}

function buildOption() {
  const grid: any[] = [], xAxis: any[] = [], yAxis: any[] = [], series: any[] = [], graphic: any[] = [];
  const tick = { show: true, inside: true, length: 5, lineStyle: { color: "#3a3a3a", width: 1 } };
  const split = { show: true, lineStyle: { color: "#b8b8b8", type: [1, 3], width: 1 } };
  const noLine = { show: false, onZero: false };
  panels.forEach((p, i) => {
    grid.push({ left: p.left, top: p.top, width: p.width, height: p.height, show: true, borderColor: "#3a3a3a", borderWidth: 1.5, backgroundColor: "#fff" });
    xAxis.push({
      gridIndex: i, type: "value", position: "bottom", min: -200, max: 200, interval: 50,
      axisLine: noLine, axisTick: tick, splitLine: split,
      axisLabel: { fontSize: 13, color: "#222", fontFamily: SANS, margin: 4, formatter: fmtX },
      name: "Wind dir. [\u00b0]", nameLocation: "middle", nameGap: 19,
      nameTextStyle: { fontSize: 17, color: "#111", fontFamily: SANS },
    });
    yAxis.push({
      gridIndex: i, type: "value", position: "left", min: 0, max: p.ymax, interval: 1,
      axisLine: noLine, axisTick: tick, splitLine: split,
      axisLabel: {
        fontSize: 13, color: "#222", fontFamily: SANS, margin: 7, formatter: fmtY,
        rich: { z: { fontSize: 13, color: "#222", fontFamily: SANS, padding: [0, 0, 9, 0] } },
      },
      name: "[-]", nameLocation: "middle", nameGap: 18, nameRotate: 90,
      nameTextStyle: { fontSize: 16, color: "#111", fontFamily: SANS },
    });
    const ax = { xAxisIndex: i, yAxisIndex: i };
    dashX.forEach((x, j) => {
      series.push({
        ...ax, type: "line", data: [[x, p.dashBot], [x, p.dashTop[j]]], symbol: "none", silent: true,
        lineStyle: { color: "#222", width: 1, type: [5, 4] }, z: 1,
      });
    });
    const redPts: number[][] = [];
    p.red.forEach((col) => { for (let k = 1; k < col.length; k++) redPts.push([col[0], col[k]]); });
    series.push({ ...ax, type: "scatter", data: redPts, symbol: PLUS, symbolSize: 8, itemStyle: { color: "#ff1a1a", opacity: 0.9 }, z: 2, silent: true });
    if (p.thin) {
      series.push({ ...ax, type: "line", data: simX.map((x, j) => [x, (p.thin as number[])[j]]), symbol: "none", lineStyle: { color: "#4d66ff", width: 1 }, z: 3, silent: true });
    }
    const sim = (vals: number[], symbol: string, size: number, rot: number, fill: string, line: string, z: number) => ({
      ...ax, type: "line", data: simX.map((x, j) => [x, vals[j]]), symbol, symbolSize: size, symbolRotate: rot,
      showAllSymbol: true, showSymbol: true, silent: true,
      itemStyle: { color: fill, borderColor: "#111", borderWidth: 0.4 }, lineStyle: { color: line, width: 1.2 }, z,
    });
    series.push(sim(p.blue, "rect", 6.5, 0, C_BLUE, C_BLUE_L, 4));
    series.push(sim(p.green, "triangle", 8, 90, C_GREEN, C_GREEN_L, 5));
    series.push(sim(p.purple, "triangle", 8, 180, C_PURP, C_PURP_L, 6));
    series.push({
      ...ax, type: "line", data: binX.map((x, j) => [x, p.black[j]]), symbol: "circle", symbolSize: 7.5,
      showAllSymbol: true, silent: true, itemStyle: { color: "#000" }, lineStyle: { color: "#000", width: 1 }, z: 7,
    });
    series.push({
      ...ax, type: "scatter", data: dashX.map((x) => [x, p.labY]), symbolSize: 0, silent: true, z: 8,
      label: {
        show: true, position: "inside",
        formatter: (q: any) => `{n|${dashNum[q.dataIndex]}}{d|D}`,
        rich: {
          n: { fontFamily: SERIF, fontSize: 13, color: "#333" },
          d: { fontFamily: SERIF, fontSize: 13, fontStyle: "italic", color: "#333" },
        },
      },
    });

    // Titles
    const cx = p.left + p.width / 2;
    graphic.push({ type: "text", x: cx, y: p.t1y, z: 100, style: { text: p.title, fontSize: 20, fontFamily: SANS, fill: "#000", align: "center", verticalAlign: "middle" } });
    graphic.push({
      type: "text", x: cx, y: p.t2y, z: 100,
      style: {
        text: `{s|${p.amb}}{m|${p.range} }{i|m/s}{s|:}`, align: "center", verticalAlign: "middle",
        rich: {
          s: { fontSize: 19.5, fontFamily: SANS, fill: "#000" },
          m: { fontSize: 20.5, fontFamily: SERIF, fill: "#222" },
          i: { fontSize: 20.5, fontFamily: SERIF, fontStyle: "italic", fill: "#222" },
        },
      },
    });

    // Legend
    const bx = p.left + 6, by = p.top + 8;
    const rows = [13, 35, 58, 80, 104].map((d) => by + d);
    const ms = [bx + 11, bx + 33];
    graphic.push({ type: "rect", z: 100, shape: { x: bx, y: by, width: 284, height: 120 }, style: { fill: "#fff", stroke: "#222", lineWidth: 1.2 } });
    ms.forEach((mx) => {
      graphic.push({ type: "rect", z: 101, shape: { x: mx - 3.5, y: rows[0] - 0.6, width: 7, height: 1.2 }, style: { fill: "#ff3030" } });
      graphic.push({ type: "rect", z: 101, shape: { x: mx - 0.6, y: rows[0] - 3.5, width: 1.2, height: 7 }, style: { fill: "#ff3030" } });
    });
    const lineCol = [C_BLUE_L, C_GREEN_L, C_PURP_L, "#000"];
    [1, 2, 3, 4].forEach((r, k) => {
      graphic.push({ type: "line", z: 101, shape: { x1: ms[0], y1: rows[r], x2: ms[1], y2: rows[r] }, style: { stroke: lineCol[k], lineWidth: 1.2 } });
    });
    ms.forEach((mx) => {
      const y1 = rows[1], y2 = rows[2], y3 = rows[3], y4 = rows[4];
      graphic.push({ type: "rect", z: 102, shape: { x: mx - 3.5, y: y1 - 3.5, width: 7, height: 7 }, style: { fill: C_BLUE, stroke: "#111", lineWidth: 0.5 } });
      graphic.push({ type: "polygon", z: 102, shape: { points: [[mx - 4, y2], [mx + 4, y2 - 4], [mx + 4, y2 + 4]] }, style: { fill: C_GREEN, stroke: "#111", lineWidth: 0.5 } });
      graphic.push({ type: "polygon", z: 102, shape: { points: [[mx - 4, y3 - 4], [mx + 4, y3 - 4], [mx, y3 + 4]] }, style: { fill: C_PURP, stroke: "#111", lineWidth: 0.5 } });
      graphic.push({ type: "circle", z: 102, shape: { cx: mx, cy: y4, r: 3.8 }, style: { fill: "#000" } });
    });
    const texts = [
      "Meas. 1Hz eq",
      `Simul. 1Hz eq. ${p.speed} m/s Stab -2`,
      `Simul. 1Hz eq. ${p.speed} m/s Stab 0`,
      `Simul. 1Hz eq. ${p.speed} m/s Stab 2`,
    ];
    texts.forEach((t, k) => {
      graphic.push({ type: "text", z: 101, x: bx + 49, y: rows[k], style: { text: t, fontSize: 15.5, fontFamily: SANS, fill: "#000", verticalAlign: "middle" } });
    });
    graphic.push({
      type: "text", z: 101, x: bx + 49, y: rows[4],
      style: {
        text: "{a|Meas. E[x], bin }{b|\u00b12\u00b0}", verticalAlign: "middle",
        rich: { a: { fontSize: 15.5, fontFamily: SANS, fill: "#000" }, b: { fontSize: 16.5, fontFamily: SERIF, fill: "#555" } },
      },
    });
  });
  // mirrored ticks on the top and right spines
  panels.forEach((p, i) => {
    xAxis.push({
      gridIndex: i, type: "value", position: "top", min: -200, max: 200, interval: 50,
      axisLine: noLine, axisTick: tick, axisLabel: { show: false }, splitLine: { show: false },
    });
    yAxis.push({
      gridIndex: i, type: "value", position: "right", min: 0, max: p.ymax, interval: 1,
      axisLine: noLine, axisTick: tick, axisLabel: { show: false }, splitLine: { show: false },
    });
  });
  return { animation: false, backgroundColor: "#fff", grid, xAxis, yAxis, series, graphic };
}

export default function App() {
  const ref = useRef<HTMLDivElement>(null);
  useEffect(() => {
    if (!ref.current) return;
    const chart = echarts.init(ref.current, null, { renderer: "svg" });
    chart.setOption(buildOption() as any);
    return () => chart.dispose();
  }, []);
  return <div ref={ref} style={{ position: "absolute", left: 0, top: 0, width: 1153, height: 956, background: "#fff" }} />;
}
